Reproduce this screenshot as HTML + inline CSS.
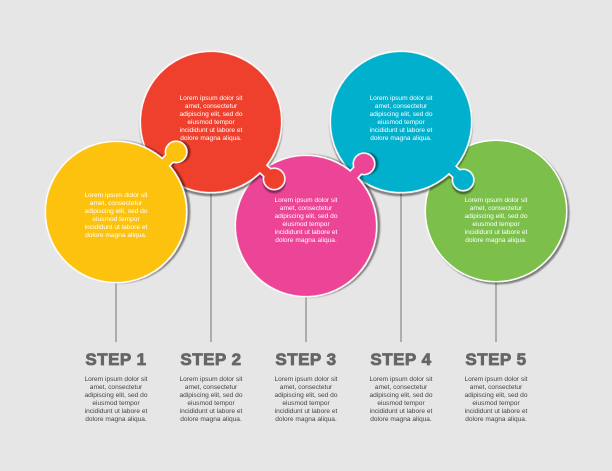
<!DOCTYPE html>
<html><head><meta charset="utf-8"><style>
body{margin:0;background:#e6e6e6;}
svg{display:block;font-family:"Liberation Sans",Arial,sans-serif;}
.t{fill:#fff;font-size:6.6px;text-anchor:middle;}
.b{fill:#444;font-size:6.6px;text-anchor:middle;}
.s{fill:#666;stroke:#666;stroke-width:0.8px;font-size:17px;font-weight:bold;text-anchor:middle;letter-spacing:0.5px;}
</style></head><body>
<svg width="612" height="471" viewBox="0 0 612 471">
<defs>
<filter id="sh" x="-20%" y="-20%" width="150%" height="150%">
<feDropShadow dx="2" dy="2" stdDeviation="0.8" flood-color="#000" flood-opacity="0.45"/>
</filter>
<g id="pc">
<circle cx="0" cy="0" r="70"/>
<rect x="60" y="-4.5" width="24" height="9"/>
<circle cx="85" cy="0" r="10"/>
</g>
</defs>
<g stroke="#9a9a9a" stroke-width="1.5">
<line x1="116" y1="280" x2="116" y2="342"/>
<line x1="211" y1="190" x2="211" y2="342"/>
<line x1="306" y1="294" x2="306" y2="342"/>
<line x1="401" y1="190" x2="401" y2="342"/>
<line x1="496" y1="280" x2="496" y2="342"/>
</g>
<g filter="url(#sh)" transform="translate(496,211)"><circle r="71.5" fill="#fff"/><circle r="70" fill="#7cc04b"/></g>
<g filter="url(#sh)" transform="translate(401,122) rotate(43)"><use href="#pc" fill="#fff" stroke="#fff" stroke-width="3"/><use href="#pc" fill="#00b0cc"/></g>
<g filter="url(#sh)" transform="translate(306,226) rotate(-47)"><use href="#pc" fill="#fff" stroke="#fff" stroke-width="3"/><use href="#pc" fill="#ec4597"/></g>
<g filter="url(#sh)" transform="translate(211,122) rotate(42)"><use href="#pc" fill="#fff" stroke="#fff" stroke-width="3"/><use href="#pc" fill="#ef412e"/></g>
<g filter="url(#sh)" transform="translate(116,212) rotate(-45)"><use href="#pc" fill="#fff" stroke="#fff" stroke-width="3"/><use href="#pc" fill="#fdc210"/></g>

<g class="t">
<text x="116" y="197">Lorem ipsum dolor sit<tspan x="116" dy="8">amet, consectetur</tspan><tspan x="116" dy="8">adipiscing elit, sed do</tspan><tspan x="116" dy="8">eiusmod tempor</tspan><tspan x="116" dy="8">incididunt ut labore et</tspan><tspan x="116" dy="8">dolore magna aliqua.</tspan></text>
<text x="211" y="100">Lorem ipsum dolor sit<tspan x="211" dy="8">amet, consectetur</tspan><tspan x="211" dy="8">adipiscing elit, sed do</tspan><tspan x="211" dy="8">eiusmod tempor</tspan><tspan x="211" dy="8">incididunt ut labore et</tspan><tspan x="211" dy="8">dolore magna aliqua.</tspan></text>
<text x="306" y="202">Lorem ipsum dolor sit<tspan x="306" dy="8">amet, consectetur</tspan><tspan x="306" dy="8">adipiscing elit, sed do</tspan><tspan x="306" dy="8">eiusmod tempor</tspan><tspan x="306" dy="8">incididunt ut labore et</tspan><tspan x="306" dy="8">dolore magna aliqua.</tspan></text>
<text x="401" y="100">Lorem ipsum dolor sit<tspan x="401" dy="8">amet, consectetur</tspan><tspan x="401" dy="8">adipiscing elit, sed do</tspan><tspan x="401" dy="8">eiusmod tempor</tspan><tspan x="401" dy="8">incididunt ut labore et</tspan><tspan x="401" dy="8">dolore magna aliqua.</tspan></text>
<text x="496" y="202">Lorem ipsum dolor sit<tspan x="496" dy="8">amet, consectetur</tspan><tspan x="496" dy="8">adipiscing elit, sed do</tspan><tspan x="496" dy="8">eiusmod tempor</tspan><tspan x="496" dy="8">incididunt ut labore et</tspan><tspan x="496" dy="8">dolore magna aliqua.</tspan></text>
</g>
<g class="s">
<text x="116" y="365">STEP 1</text><text x="211" y="365">STEP 2</text><text x="306" y="365">STEP 3</text><text x="401" y="365">STEP 4</text><text x="496" y="365">STEP 5</text>
</g>
<g class="b">
<text x="116" y="381">Lorem ipsum dolor sit<tspan x="116" dy="8">amet, consectetur</tspan><tspan x="116" dy="8">adipiscing elit, sed do</tspan><tspan x="116" dy="8">eiusmod tempor</tspan><tspan x="116" dy="8">incididunt ut labore et</tspan><tspan x="116" dy="8">dolore magna aliqua.</tspan></text>
<text x="211" y="381">Lorem ipsum dolor sit<tspan x="211" dy="8">amet, consectetur</tspan><tspan x="211" dy="8">adipiscing elit, sed do</tspan><tspan x="211" dy="8">eiusmod tempor</tspan><tspan x="211" dy="8">incididunt ut labore et</tspan><tspan x="211" dy="8">dolore magna aliqua.</tspan></text>
<text x="306" y="381">Lorem ipsum dolor sit<tspan x="306" dy="8">amet, consectetur</tspan><tspan x="306" dy="8">adipiscing elit, sed do</tspan><tspan x="306" dy="8">eiusmod tempor</tspan><tspan x="306" dy="8">incididunt ut labore et</tspan><tspan x="306" dy="8">dolore magna aliqua.</tspan></text>
<text x="401" y="381">Lorem ipsum dolor sit<tspan x="401" dy="8">amet, consectetur</tspan><tspan x="401" dy="8">adipiscing elit, sed do</tspan><tspan x="401" dy="8">eiusmod tempor</tspan><tspan x="401" dy="8">incididunt ut labore et</tspan><tspan x="401" dy="8">dolore magna aliqua.</tspan></text>
<text x="496" y="381">Lorem ipsum dolor sit<tspan x="496" dy="8">amet, consectetur</tspan><tspan x="496" dy="8">adipiscing elit, sed do</tspan><tspan x="496" dy="8">eiusmod tempor</tspan><tspan x="496" dy="8">incididunt ut labore et</tspan><tspan x="496" dy="8">dolore magna aliqua.</tspan></text>
</g>
</svg>
</body></html>
